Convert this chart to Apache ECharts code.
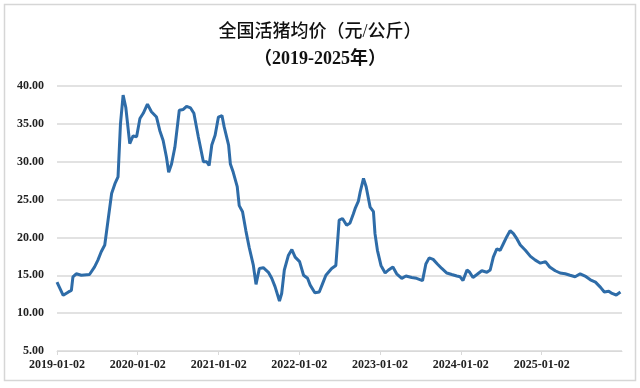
<!DOCTYPE html>
<html><head><meta charset="utf-8">
<script src="https://cdn.jsdelivr.net/npm/echarts@6/dist/echarts.min.js"></script>
<style>html,body{margin:0;padding:0;background:#fff}#c{width:640px;height:388px}</style>
</head><body><div id="c"></div>
<script>
const titleLine1 = '全国活猪均价（元/公斤）';
const titleLine2 = '（2019-2025年）';
const tickLabels = ['2019-01-02','2020-01-02','2021-01-02','2022-01-02','2023-01-02','2024-01-02','2025-01-02'];
const dates = [
'2019-01-02','2019-01-30','2019-02-23','2019-03-08','2019-03-15','2019-03-30','2019-04-22','2019-05-29','2019-06-21','2019-07-06',
'2019-07-21','2019-08-06','2019-08-21','2019-09-06','2019-09-21','2019-10-05','2019-10-16','2019-10-28','2019-11-09','2019-11-27',
'2019-12-12','2019-12-28','2020-01-12','2020-01-27','2020-02-15','2020-03-04','2020-03-27','2020-04-11','2020-04-26','2020-05-11',
'2020-05-21','2020-06-03','2020-06-18','2020-07-08','2020-07-26','2020-08-10','2020-08-28','2020-09-12','2020-10-02','2020-10-25',
'2020-11-09','2020-11-20','2020-12-02','2020-12-17','2021-01-01','2021-01-17','2021-01-27','2021-02-16','2021-02-24','2021-03-09',
'2021-03-27','2021-04-05','2021-04-20','2021-05-05','2021-05-20','2021-06-08','2021-06-20','2021-07-05','2021-07-23','2021-08-15',
'2021-08-30','2021-09-14','2021-10-04','2021-10-14','2021-10-26','2021-11-13','2021-11-29','2021-12-14','2022-01-03','2022-01-21',
'2022-02-08','2022-02-20','2022-03-13','2022-04-02','2022-04-17','2022-05-02','2022-05-28','2022-06-16','2022-07-01','2022-07-16',
'2022-08-04','2022-08-19','2022-09-03','2022-09-11','2022-09-26','2022-10-04','2022-10-19','2022-10-31','2022-11-18','2022-12-03',
'2022-12-10','2022-12-21','2023-01-06','2023-01-25','2023-02-09','2023-03-01','2023-03-18','2023-04-10','2023-04-29','2023-05-25',
'2023-06-16','2023-07-13','2023-07-28','2023-08-12','2023-08-30','2023-09-18','2023-10-08','2023-10-31','2023-11-22','2023-12-15',
'2023-12-30','2024-01-12','2024-01-30','2024-02-11','2024-02-26','2024-03-15','2024-04-06','2024-04-29','2024-05-14','2024-05-28',
'2024-06-13','2024-06-28','2024-07-13','2024-07-28','2024-08-12','2024-08-27','2024-09-12','2024-09-27','2024-10-20','2024-11-12',
'2024-12-04','2024-12-27','2025-01-19','2025-02-07','2025-03-04','2025-03-26','2025-04-18','2025-05-10','2025-06-02','2025-06-25',
'2025-07-17','2025-08-10','2025-09-02','2025-09-25','2025-10-12','2025-11-01','2025-11-16','2025-12-05','2025-12-24'
];
const prices = [
14.1,12.35,12.8,13.0,14.8,15.2,15.0,15.1,16.1,17.0,
18.1,19.0,22.3,25.8,27.1,28.0,35.0,38.8,37.2,32.4,
33.4,33.3,35.7,36.4,37.6,36.6,35.9,34.1,32.8,30.6,
28.6,29.7,31.9,36.8,36.9,37.3,37.1,36.4,33.3,30.0,
30.0,29.5,32.2,33.5,35.9,36.1,34.6,32.2,29.7,28.6,
26.7,24.2,23.4,20.9,18.7,16.3,13.8,15.9,16.0,15.4,
14.6,13.5,11.6,12.6,15.7,17.6,18.4,17.4,16.8,15.0,
14.6,13.7,12.7,12.8,13.9,15.0,15.9,16.3,22.3,22.5,
21.6,21.9,23.1,23.8,24.8,26.0,27.8,26.7,24.0,23.4,
20.5,18.3,16.3,15.3,15.7,16.1,15.2,14.6,14.9,14.7,
14.6,14.3,16.5,17.3,17.1,16.5,15.9,15.3,15.1,14.9,
14.8,14.3,15.7,15.4,14.7,15.1,15.6,15.4,15.7,17.4,
18.5,18.3,19.2,20.1,20.9,20.5,19.8,19.0,18.3,17.5,
17.0,16.6,16.8,16.1,15.6,15.3,15.2,15.0,14.8,15.2,
14.9,14.4,14.1,13.4,12.8,12.9,12.6,12.4,12.8
];
const xStart = '2019-01-02';
const xEnd = '2025-12-31';

const DAY = 86400000;
function utc(s){const p=s.split('-').map(Number);return Date.UTC(p[0],p[1]-1,p[2]);}
function dayIndex(s){return Math.round((utc(s)-utc(xStart))/DAY);}
function pad(n){return (n<10?'0':'')+n;}
function fmtDay(v){const d=new Date(utc(xStart)+Math.round(v)*DAY);return d.getUTCFullYear()+'-'+pad(d.getUTCMonth()+1)+'-'+pad(d.getUTCDate());}

const tickValues = tickLabels.map(dayIndex);
const seriesData = dates.map((d,i)=>[dayIndex(d), prices[i]]);
const labelFont = {fontFamily:'"Liberation Serif","Times New Roman",serif', fontWeight:'bold', fontSize:12, color:'#222'};

const chart = echarts.init(document.getElementById('c'), null, {renderer:'canvas'});
chart.setOption({
  backgroundColor:'#fff',
  animation:false,
  title:{
    text: '{a|' + titleLine1 + '}\n{b|' + titleLine2 + '}',
    left:'center', top:14,
    textStyle:{
      rich:{
        a:{fontFamily:'"Liberation Serif","Noto Sans CJK SC",serif', fontSize:18, fontWeight:500, color:'#111', lineHeight:27},
        b:{fontFamily:'"Liberation Serif","Noto Sans CJK SC",serif', fontSize:18, fontWeight:'bold', color:'#111', lineHeight:27}
      }
    }
  },
  graphic:[{type:'rect', shape:{x:4.5,y:4.5,width:631,height:376}, style:{fill:'none', stroke:'#d6d6d6', lineWidth:1.5}, z:-1}],
  grid:{left:57, right:18, top:86, bottom:37, containLabel:false},
  xAxis:{
    type:'value', min:0, max:dayIndex(xEnd),
    axisLine:{show:true, lineStyle:{color:'#d9d9d9', width:1}},
    axisTick:{show:true, customValues:tickValues, length:4, lineStyle:{color:'#d9d9d9'}},
    axisLabel:Object.assign({customValues:tickValues, margin:8, formatter:function(v){return fmtDay(v);}}, labelFont),
    splitLine:{show:false}
  },
  yAxis:{
    type:'value', min:5, max:40, interval:5,
    axisLine:{show:false}, axisTick:{show:false},
    axisLabel:Object.assign({margin:13, formatter:function(v){return v.toFixed(2);}}, labelFont),
    splitLine:{show:true, lineStyle:{color:'#d9d9d9', width:1.5}}
  },
  series:[{
    type:'line', data:seriesData, showSymbol:false, smooth:false,
    lineStyle:{color:'#2e6ca8', width:3}, itemStyle:{color:'#2e6ca8'}
  }]
});
</script></body></html>
